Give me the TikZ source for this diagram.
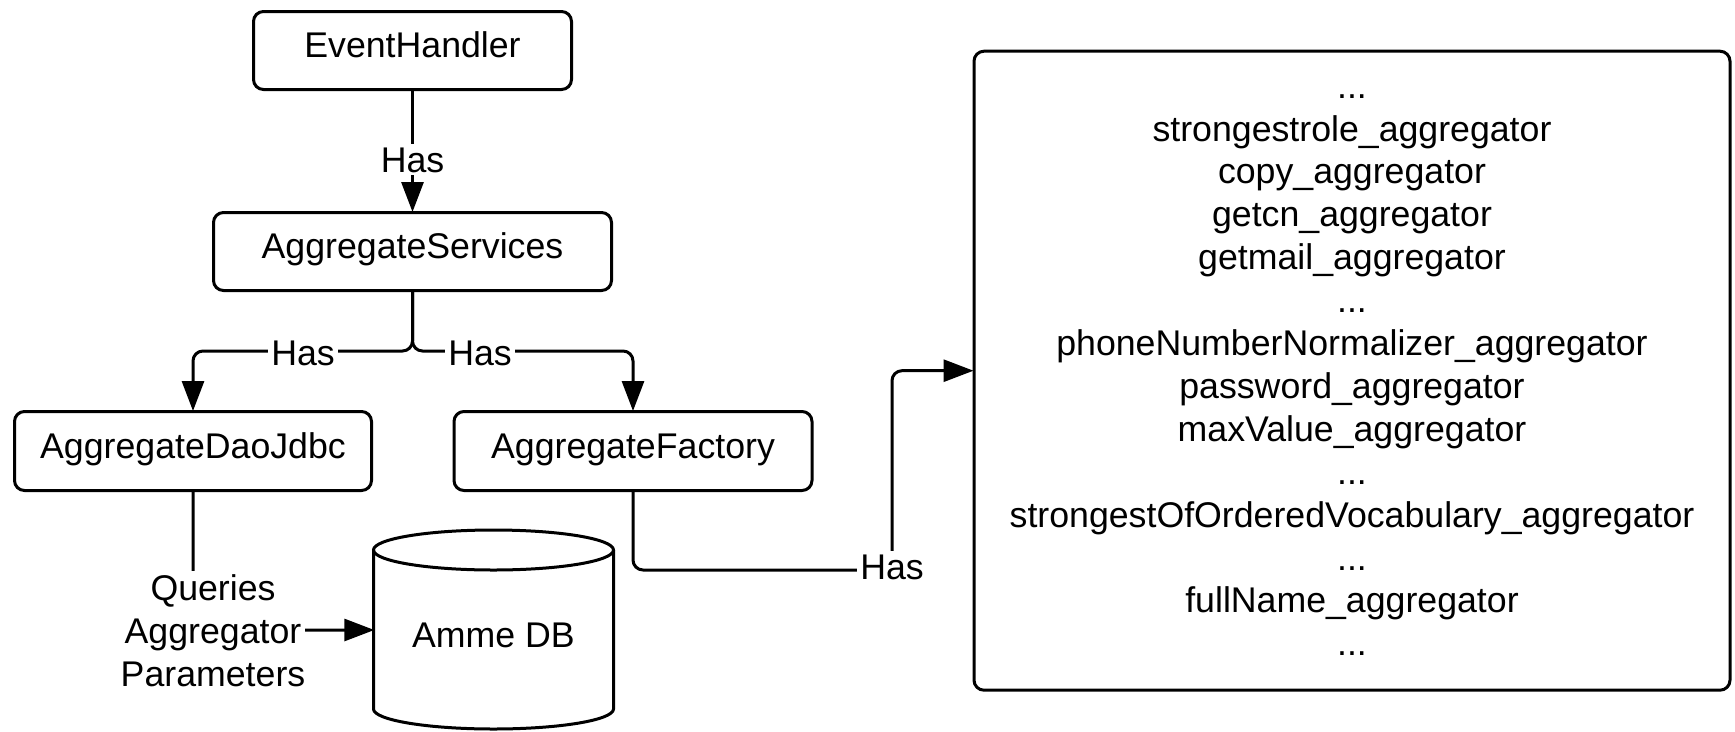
\documentclass[tikz,border=0pt]{standalone}
\usepackage{fontspec}
\setmainfont{Liberation Sans}
\usetikzlibrary{arrows.meta,calc}
\begin{document}
\begin{tikzpicture}[x=1pt,y=-1pt,
  font=\fontsize{35.7}{42.9}\selectfont,
  box/.style={draw, line width=3pt, rounded corners=10pt, inner sep=0pt, text height=25pt, text depth=10.4pt},
  conn/.style={line width=3pt, rounded corners=10pt},
  arr/.style={-{Triangle[length=30pt,width=22pt]}, shorten >=-1pt},
  lbl/.style={fill=white, inner xsep=3pt, inner ysep=1pt, text height=27pt, text depth=2pt, anchor=base}]
\useasboundingbox (0,0) rectangle (1735,731);
% boxes
\node[box, minimum width=318pt, minimum height=78pt] (eh) at (412.5,50.5) {EventHandler};
\node[box, minimum width=398pt, minimum height=78pt] (as) at (412.5,251.5) {AggregateServices};
\node[box, minimum width=357pt, minimum height=79pt] (dao) at (193,451) {AggregateDaoJdbc};
\node[box, minimum width=358pt, minimum height=79pt] (fac) at (633,451) {AggregateFactory};
\node[draw, line width=3pt, rounded corners=10pt, inner sep=0pt, minimum width=756pt, minimum height=639pt] (list) at (1352,370.7) {};
\node[align=center, inner sep=0pt] (listtext) at (1352,368.4) {\strut...\\
\strut strongestrole\_aggregator\\
\strut copy\_aggregator\\
\strut getcn\_aggregator\\
\strut getmail\_aggregator\\
\strut...\\
\strut phoneNumberNormalizer\_aggregator\\
\strut password\_aggregator\\
\strut maxValue\_aggregator\\
\strut...\\
\strut strongestOfOrderedVocabulary\_aggregator\\
\strut...\\
\strut fullName\_aggregator\\
\strut...};
% database cylinder
\node[inner sep=0pt, minimum width=240pt, minimum height=179pt, text height=25pt, text depth=10.4pt] (db) at (493.5,640) {Amme DB};
\draw[line width=3pt] (493.5,550) ellipse [x radius=120pt, y radius=20pt];
\draw[line width=3pt] (373.5,550) -- (373.5,709) .. controls (373.5,720) and (427.2,729) .. (493.5,729) .. controls (559.8,729) and (613.5,720) .. (613.5,709) -- (613.5,550);
% connectors
\draw[conn, arr] (eh) -- (as);
\node[lbl] (h1) at (412.5,172) {Has};
\coordinate (fork) at (412.5,351);
\draw[conn, arr] (as.south) -- (fork) -| (dao.north);
\draw[conn, arr] (as.south) -- (fork) -| (fac.north);
\node[lbl] (h2) at (303,365) {Has};
\node[lbl] (h3) at (480,365) {Has};
\draw[conn, arr] (dao.south) |- ($(db.west)+(0,-10)$);
\node[fill=white, inner sep=0pt, align=center] (q) at (213,635) {\strut Queries\\\strut Aggregator\\\strut Parameters};
\coordinate (c1) at (892,570);
\draw[conn, arr] (fac.south) |- (c1) |- (list.west);
\node[lbl] (h4) at (892,579) {Has};
\end{tikzpicture}
\end{document}
